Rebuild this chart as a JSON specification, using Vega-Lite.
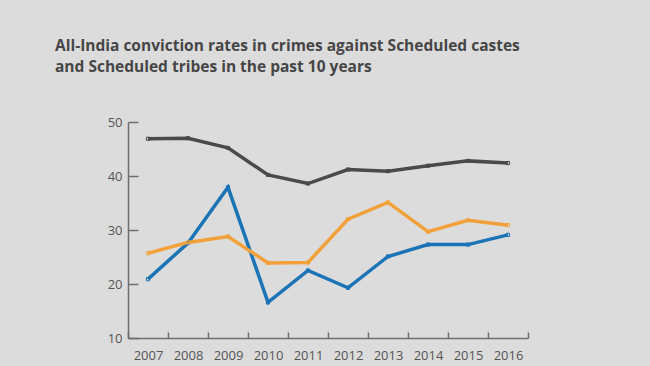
{
  "$schema": "https://vega.github.io/schema/vega-lite/v6.json",
  "width": 400,
  "height": 216,
  "autosize": {"type": "none"},
  "padding": {"left": 128, "top": 122, "right": 122, "bottom": 28},
  "background": "#dcdcdc",
  "title": {
    "text": ["All-India conviction rates in crimes against Scheduled castes", "and Scheduled tribes in the past 10 years"],
    "anchor": "start",
    "frame": "group",
    "dx": -73,
    "offset": 41,
    "font": "Open Sans",
    "fontSize": 15.5,
    "fontWeight": "bold",
    "color": "#464646",
    "lineHeight": 21
  },
  "config": {
    "view": {"stroke": null},
    "axis": {
      "labelFont": "Open Sans",
      "labelFontSize": 13,
      "labelColor": "#555555",
      "domainColor": "#6e6e6e",
      "tickColor": "#6e6e6e",
      "domainWidth": 1.5,
      "tickWidth": 1.5,
      "grid": false,
      "title": null
    }
  },
  "data": {
    "values": [
      {"year": "2007", "series": "All IPC crimes", "value": 46.9},
      {"year": "2008", "series": "All IPC crimes", "value": 47.0},
      {"year": "2009", "series": "All IPC crimes", "value": 45.2},
      {"year": "2010", "series": "All IPC crimes", "value": 40.2},
      {"year": "2011", "series": "All IPC crimes", "value": 38.6},
      {"year": "2012", "series": "All IPC crimes", "value": 41.2},
      {"year": "2013", "series": "All IPC crimes", "value": 40.9},
      {"year": "2014", "series": "All IPC crimes", "value": 41.9},
      {"year": "2015", "series": "All IPC crimes", "value": 42.8},
      {"year": "2016", "series": "All IPC crimes", "value": 42.4},
      {"year": "2007", "series": "Scheduled tribes", "value": 20.9},
      {"year": "2008", "series": "Scheduled tribes", "value": 27.6},
      {"year": "2009", "series": "Scheduled tribes", "value": 37.9},
      {"year": "2010", "series": "Scheduled tribes", "value": 16.6},
      {"year": "2011", "series": "Scheduled tribes", "value": 22.5},
      {"year": "2012", "series": "Scheduled tribes", "value": 19.3},
      {"year": "2013", "series": "Scheduled tribes", "value": 25.1},
      {"year": "2014", "series": "Scheduled tribes", "value": 27.3},
      {"year": "2015", "series": "Scheduled tribes", "value": 27.3},
      {"year": "2016", "series": "Scheduled tribes", "value": 29.1},
      {"year": "2007", "series": "Scheduled castes", "value": 25.7},
      {"year": "2008", "series": "Scheduled castes", "value": 27.7},
      {"year": "2009", "series": "Scheduled castes", "value": 28.8},
      {"year": "2010", "series": "Scheduled castes", "value": 23.9},
      {"year": "2011", "series": "Scheduled castes", "value": 24.0},
      {"year": "2012", "series": "Scheduled castes", "value": 32.0},
      {"year": "2013", "series": "Scheduled castes", "value": 35.1},
      {"year": "2014", "series": "Scheduled castes", "value": 29.7},
      {"year": "2015", "series": "Scheduled castes", "value": 31.8},
      {"year": "2016", "series": "Scheduled castes", "value": 30.9}
    ]
  },
  "encoding": {
    "x": {
      "field": "year",
      "type": "ordinal",
      "bandPosition": 0.5,
      "scale": {"type": "band", "paddingInner": 0, "paddingOuter": 0},
      "axis": {"tickBand": "extent", "labelAngle": 0, "tickSize": -6, "labelPadding": 17}
    },
    "y": {
      "field": "value",
      "type": "quantitative",
      "scale": {"domain": [10, 50], "nice": false, "zero": false},
      "axis": {"values": [10, 20, 30, 40, 50], "tickSize": -10, "labelPadding": 16}
    },
    "color": {
      "field": "series",
      "type": "nominal",
      "scale": {
        "domain": ["All IPC crimes", "Scheduled tribes", "Scheduled castes"],
        "range": ["#4a4a4a", "#1a74b6", "#f2a13a"]
      },
      "legend": null
    }
  },
  "layer": [
    {"mark": {"type": "line", "strokeWidth": 3.5}},
    {"mark": {"type": "point", "shape": "square", "size": 10, "filled": false, "strokeWidth": 1, "opacity": 1}}
  ]
}
